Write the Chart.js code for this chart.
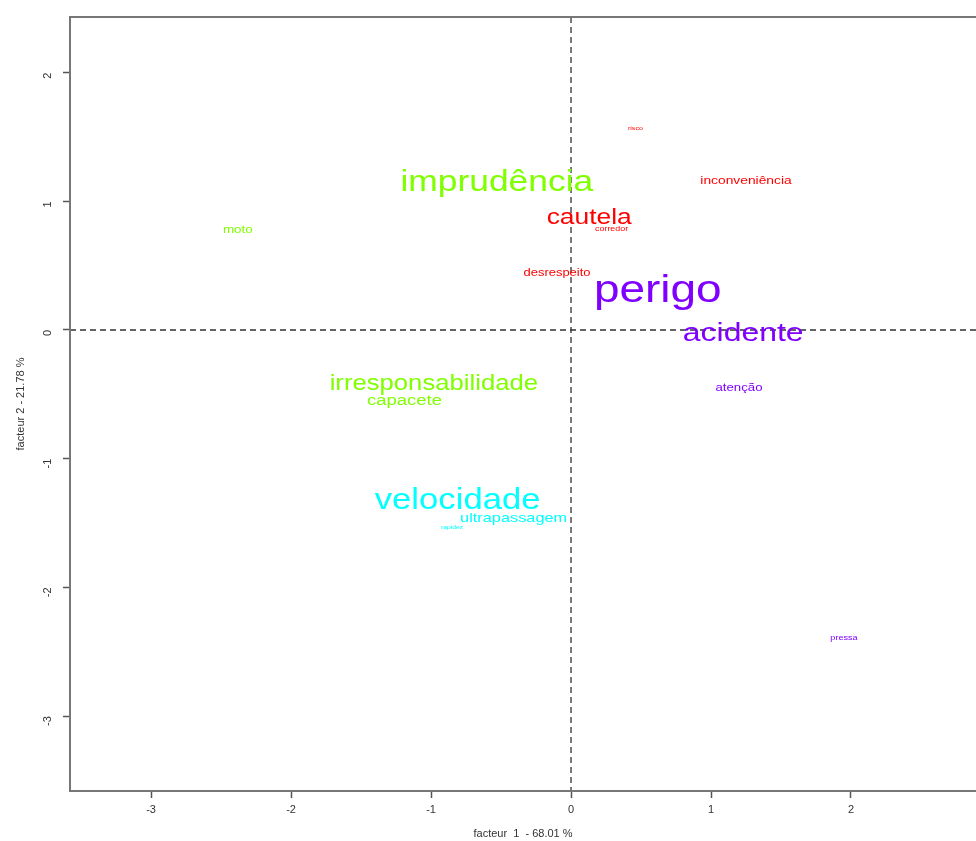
<!DOCTYPE html>
<html>
<head>
<meta charset="utf-8">
<script src="https://cdn.jsdelivr.net/npm/chart.js@4.4.0/dist/chart.umd.min.js"></script>
<style>
    html, body { margin: 0; padding: 0; background: #fff; }
</style>
</head>
<body>
<canvas id="myChart" width="976" height="841"></canvas>
<script>
// words of the correspondence analysis, coordinates on factor 1 / factor 2
const words = ["risco", "imprudência", "inconveniência", "cautela", "corredor", "moto",
               "desrespeito", "perigo", "acidente", "irresponsabilidade", "capacete",
               "atenção", "velocidade", "ultrapassagem", "rapidez", "pressa"];
const factor1 = [0.46, -0.53, 1.25, 0.13, 0.29, -2.38, -0.10, 0.62, 1.23, -0.98, -1.19,
                 1.20, -0.81, -0.41, -0.85, 1.95];
const factor2 = [1.57, 1.17, 1.17, 0.89, 0.79, 0.79, 0.45, 0.33, -0.01, -0.40, -0.54,
                 -0.44, -1.31, -1.45, -1.53, -2.39];
// relative text size (cex) and class of each word
const cex = [0.49, 2.46, 0.96, 1.83, 0.62, 0.93, 0.90, 3.19, 2.22, 1.78, 1.28,
             0.92, 2.41, 1.13, 0.47, 0.63];
const classes = [0, 1, 0, 0, 0, 1, 0, 3, 3, 1, 1, 3, 2, 2, 2, 3];
const classColors = ["#FF0000", "#80FF00", "#00FFFF", "#8000FF"];

const xTicks = [-3, -2, -1, 0, 1, 2];
const yTicks = [-3, -2, -1, 0, 1, 2];
const xLabel = "facteur  1  - 68.01 %";
const yLabel = "facteur 2 - 21.78 %";

const FONT = '"Liberation Sans", Arial, sans-serif';

// open box + dashed zero lines
const framePlugin = {
    id: 'frame',
    beforeDatasetsDraw(chart) {
        const ctx = chart.ctx;
        const a = chart.chartArea;
        const x0 = chart.scales.x.getPixelForValue(0);
        const y0 = chart.scales.y.getPixelForValue(0);
        ctx.save();
        ctx.strokeStyle = '#333';
        ctx.lineWidth = 1.3;
        ctx.setLineDash([6, 4]);
        ctx.beginPath();
        ctx.moveTo(x0, a.top); ctx.lineTo(x0, a.bottom);
        ctx.moveTo(a.left, y0); ctx.lineTo(a.right, y0);
        ctx.stroke();
        ctx.setLineDash([]);
        ctx.strokeStyle = '#777';
        ctx.lineWidth = 2;
        ctx.beginPath();
        ctx.moveTo(a.right + 2, a.top); ctx.lineTo(a.left, a.top);
        ctx.lineTo(a.left, a.bottom); ctx.lineTo(a.right + 2, a.bottom);
        ctx.stroke();
        ctx.restore();
    }
};

// draw the words at the point positions
const wordPlugin = {
    id: 'words',
    afterDatasetsDraw(chart) {
        const ctx = chart.ctx;
        const meta = chart.getDatasetMeta(0);
        meta.data.forEach((pt, i) => {
            let size = 12 * cex[i];
            ctx.save();
            ctx.translate(pt.x, pt.y + size * 0.1);
            ctx.scale(1.2, 1);
            ctx.font = size.toFixed(1) + 'px ' + FONT;
            ctx.fillStyle = classColors[classes[i]];
            ctx.textAlign = 'center';
            ctx.textBaseline = 'middle';
            ctx.fillText(words[i], 0, 0);
            ctx.restore();
        });
    }
};

function chart_init() {
    const ctx = document.getElementById("myChart");
    new Chart(ctx, {
        type: 'scatter',
        data: {
            datasets: [{
                data: factor1.map((v, i) => ({ x: v, y: factor2[i] })),
                pointRadius: 0,
                pointHoverRadius: 0,
            }]
        },
        options: {
            responsive: false,
            animation: false,
            events: [],
            layout: { padding: { top: 17, right: 0, left: 0, bottom: 0 } },
            plugins: { legend: { display: false }, tooltip: { enabled: false } },
            scales: {
                x: {
                    type: 'linear',
                    min: -3.579,
                    max: 2.893,
                    afterBuildTicks: (s) => { s.ticks = xTicks.map(v => ({ value: v })); },
                    afterFit: (s) => { s.height = 50; s.paddingLeft = 0; s.paddingRight = 0; },
                    border: { display: false },
                    grid: { drawOnChartArea: false, tickLength: 7, tickColor: '#555', tickWidth: 1.5 },
                    ticks: { color: '#333', padding: 5, font: { family: FONT, size: 11 } },
                    title: { display: true, text: xLabel, color: '#333', padding: { top: 0, bottom: 0 },
                             font: { family: FONT, size: 11 } }
                },
                y: {
                    type: 'linear',
                    min: -3.582,
                    max: 2.432,
                    afterBuildTicks: (s) => { s.ticks = yTicks.map(v => ({ value: v })); },
                    afterFit: (s) => { s.width = 70; s.paddingTop = 0; s.paddingBottom = 0; },
                    border: { display: false },
                    grid: { drawOnChartArea: false, tickLength: 7, tickColor: '#555', tickWidth: 1.5 },
                    ticks: { color: '#333', padding: 15, minRotation: 90, maxRotation: 90,
                             font: { family: FONT, size: 11 } },
                    title: { display: true, text: yLabel, color: '#333', padding: { top: 14, bottom: 0 },
                             font: { family: FONT, size: 11 } }
                }
            }
        },
        plugins: [framePlugin, wordPlugin]
    });
}

document.addEventListener('DOMContentLoaded', chart_init);
</script>
</body>
</html>
